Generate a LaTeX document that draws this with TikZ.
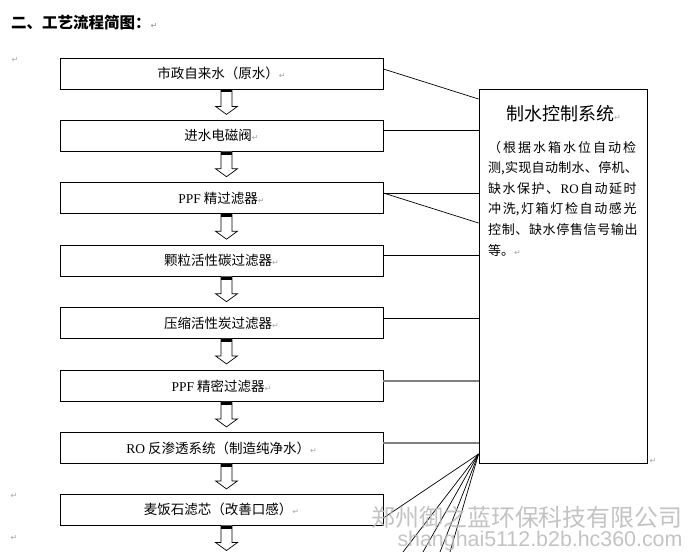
\documentclass[tikz,border=0pt]{standalone}
\usepackage{fontspec}
\usepackage{graphicx}
\setmainfont{Liberation Serif}
\newfontfamily\cjk{Noto Sans CJK SC}
\newfontfamily\lat{Liberation Serif}
\newfontfamily\djsans{DejaVu Sans}
\newfontfamily\wmlat{Liberation Sans}
\newcommand\retmark{{\djsans\fontsize{8}{8}\selectfont\color{gray!70}↵}}
\newcommand\gx{\hfil}
\tikzset{
  box/.style={draw, line width=0.8pt, minimum width=323pt, minimum height=31pt,
    inner sep=0pt, font=\cjk\fontsize{13.5}{16}\selectfont},
  link/.style={line width=0.7pt},
  graylink/.style={line width=1.3pt, draw=black!50},
  ctrltext/.style={anchor=west, inner sep=0pt, font=\cjk\fontsize{13}{15}\selectfont},
  pmark/.style={inner sep=0pt},
  wm/.style={inner sep=0pt, text=gray!55, opacity=0.85},
  flowarrow/.pic={
    \draw[line width=0.7pt, fill=white] (-5.5,0) -- (-5.5,17) -- (-11,17) -- (0,25)
      -- (11,17) -- (5.5,17) -- (5.5,0);
    \fill (-5.5,0) rectangle (5.5,3);
  }
}
\begin{document}
\begin{tikzpicture}[x=1pt,y=-1pt]
\fill[white] (0,0) rectangle (689,552);
\useasboundingbox (0,0) rectangle (689,552);

% title
\node[anchor=west, inner sep=0pt, font=\cjk\bfseries\fontsize{15.5}{18}\selectfont] (title) at (11,23) {二、工艺流程简图：\retmark};

% margin marks
\node[pmark] (m1) at (15,60) {\retmark};
\node[pmark] (m2) at (14,496) {\retmark};
\node[pmark] (m3) at (14,538) {\retmark};

% process boxes
\node[box] (b1) at (221.5,73.5) {市政自来水（原水）\retmark};
\node[box] (b2) at (221.5,135.8) {进水电磁阀\retmark};
\node[box] (b3) at (221.5,198.3) {{\lat PPF} 精过滤器\retmark};
\node[box] (b4) at (221.5,260.8) {颗粒活性碳过滤器\retmark};
\node[box] (b5) at (221.5,323) {压缩活性炭过滤器\retmark};
\node[box] (b6) at (221.5,386) {{\lat PPF} 精密过滤器\retmark};
\node[box] (b7) at (221.5,448) {{\lat RO} 反渗透系统（制造纯净水）\retmark};
\node[box] (b8) at (221.5,509.6) {麦饭石滤芯（改善口感）\retmark};

% block arrows
\coordinate (ax) at (226.5,0);
\foreach \b in {b1,b2,b3,b4,b5,b6,b7,b8}{
  \pic at (ax |- \b.south) {flowarrow};
}

% control box
\node[draw, line width=0.9pt, minimum width=168pt, minimum height=374pt, inner sep=0pt] (ctrl) at (563,276) {};
\node[anchor=west, inner sep=0pt, font=\cjk\fontsize{18}{20}\selectfont] (ct) at (506,114) {制水控制系统\retmark};
\node[ctrltext] (l1) at (488,148) {\makebox[150pt][l]{（\gx 根\gx 据\gx 水\gx 箱\gx 水\gx 位\gx 自\gx 动\gx 检}};
\node[ctrltext] (l2) at (488,168.5) {\makebox[150pt][l]{测,\gx 实\gx 现\gx 自\gx 动\gx 制\gx 水\gx 、\gx 停\gx 机\gx 、}};
\node[ctrltext] (l3) at (488,189) {\makebox[150pt][l]{缺\gx 水\gx 保\gx 护\gx 、\gx {\lat RO}\gx 自\gx 动\gx 延\gx 时}};
\node[ctrltext] (l4) at (488,209.5) {\makebox[150pt][l]{冲\gx 洗,\gx 灯\gx 箱\gx 灯\gx 检\gx 自\gx 动\gx 感\gx 光}};
\node[ctrltext] (l5) at (488,230) {\makebox[150pt][l]{控\gx 制\gx 、\gx 缺\gx 水\gx 停\gx 售\gx 信\gx 号\gx 输\gx 出}};
\node[ctrltext] (l6) at (488,250.5) {等。\retmark};
\node[pmark] (cm) at (653,461) {\retmark};

% connectors to control box
\draw[link] (b1.east |- 0,69) -- (ctrl.west |- 0,99);
\draw[link] (b2.east |- 0,130) -- (ctrl.west |- 0,130);
\draw[link] (b3.east |- 0,193) -- (ctrl.west |- 0,193);
\draw[link] (b3.east |- 0,193) -- (ctrl.west |- 0,223);
\draw[link] (b4.east |- 0,255) -- (ctrl.west |- 0,255);
\draw[link] (b5.east |- 0,318) -- (ctrl.west |- 0,318);
\draw[graylink, line width=1.1pt] (b6.east |- 0,381) -- (ctrl.west |- 0,381);
\draw[graylink] (b7.east |- 0,443) -- (ctrl.west |- 0,443);
\coordinate (hub) at (ctrl.west |- 0,454);
\coordinate (f1) at (403,552);
\coordinate (f2) at (423,552);
\coordinate (f3) at (440,552);
\coordinate (f4) at (450,552);
\draw[link] (hub) -- (b8.east |- 0,518);
\draw[link] (hub) -- (f1);
\draw[link] (hub) -- (f2);
\draw[link] (hub) -- (f3);
\draw[link] (hub) -- (f4);

% watermark
\node[wm] (w1) at (527,517) {\resizebox{311pt}{!}{\cjk 郑州御之蓝环保科技有限公司}};
\node[wm] (w2) at (540,541) {\resizebox{285pt}{!}{\wmlat shanghai5112.b2b.hc360.com}};
\end{tikzpicture}
\end{document}
